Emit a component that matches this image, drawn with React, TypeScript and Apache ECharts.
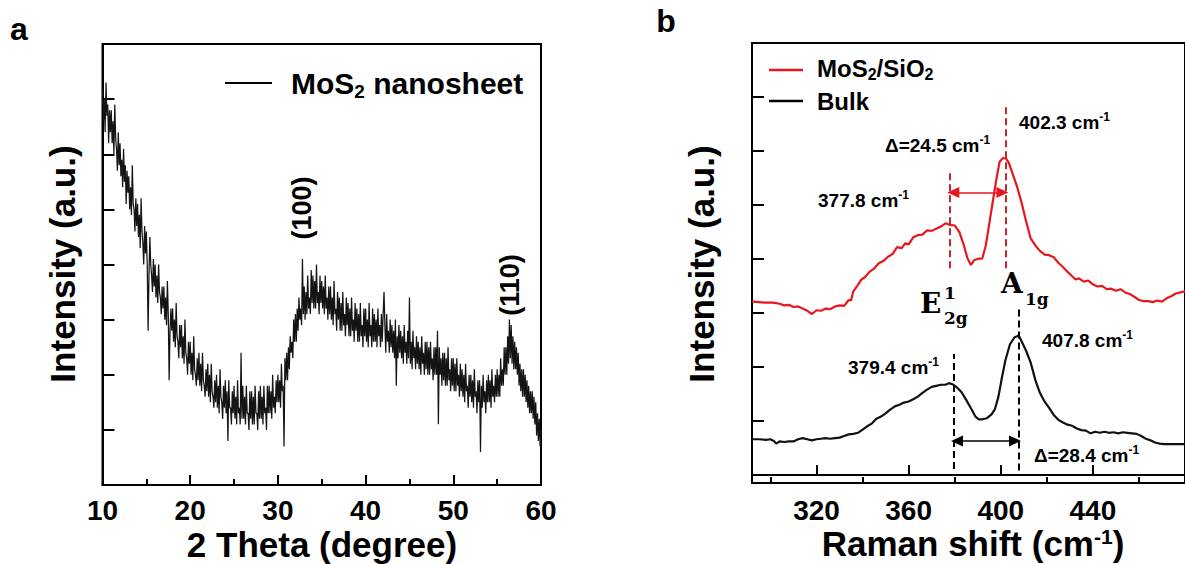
import React, { useEffect, useRef } from "react";
import * as echarts from "echarts";

// ---------- Panel a: XRD ----------
const xrdStart = 10;
const xrdStep = 0.1;
// intensity (a.u.), 10 readings per degree from 10° to 60°
const xrdIntensity = [
  7.2, 6.6, 7.0, 6.4, 7.3, 6.7, 6.9, 6.2, 6.8, 6.4, // 10
  6.8, 6.2, 6.6, 6.0, 6.9, 6.3, 6.1, 5.7, 6.4, 5.8, // 11
  6.2, 5.6, 5.9, 5.4, 6.1, 5.5, 5.8, 5.1, 5.7, 5.3, // 12
  5.6, 5.0, 5.4, 4.9, 5.8, 5.1, 5.0, 4.6, 5.2, 4.7, // 13
  5.1, 4.5, 4.9, 4.3, 5.2, 4.6, 4.4, 4.0, 4.7, 4.2, // 14
  4.6, 4.0, 2.8, 3.8, 4.5, 4.0, 3.8, 3.5, 4.1, 3.6, // 15
  4.0, 3.4, 3.8, 3.3, 4.0, 3.5, 3.4, 3.1, 3.6, 3.2, // 16
  3.6, 3.0, 3.4, 2.9, 3.7, 3.1, 1.9, 2.8, 3.2, 2.8, // 17
  3.2, 2.6, 3.0, 2.5, 3.3, 2.7, 2.6, 2.3, 2.9, 2.5, // 18
  2.9, 2.3, 2.7, 2.2, 3.0, 2.4, 2.3, 2.0, 2.6, 2.2, // 19
  2.6, 2.0, 2.4, 1.9, 2.7, 2.1, 2.0, 1.8, 2.3, 1.9, // 20
  2.4, 1.8, 2.2, 1.7, 2.4, 1.9, 1.8, 1.6, 2.1, 1.7, // 21
  2.2, 1.6, 2.0, 1.5, 2.2, 1.7, 1.6, 1.4, 1.9, 1.5, // 22
  2.0, 1.4, 1.8, 1.3, 2.1, 1.6, 1.5, 1.2, 1.8, 1.4, // 23
  1.9, 1.3, 1.7, 0.8, 1.9, 1.4, 1.4, 1.1, 1.7, 1.3, // 24
  1.8, 1.2, 1.6, 1.1, 1.9, 1.3, 1.4, 1.1, 2.4, 1.2, // 25
  1.8, 1.2, 1.6, 1.1, 1.8, 1.3, 1.3, 1.0, 1.7, 1.2, // 26
  1.7, 1.1, 1.6, 1.1, 1.8, 1.3, 1.3, 1.0, 1.7, 1.2, // 27
  1.8, 1.2, 1.6, 1.1, 1.8, 1.3, 1.4, 1.0, 1.8, 1.3, // 28
  1.8, 1.3, 1.7, 1.2, 2.0, 1.4, 1.6, 1.3, 1.9, 1.5, // 29
  2.0, 1.5, 1.9, 1.4, 2.2, 1.7, 1.8, 0.7, 2.3, 1.9, // 30
  2.4, 1.9, 2.5, 2.1, 2.7, 2.4, 2.6, 2.3, 3.0, 2.6, // 31
  3.1, 2.6, 3.2, 2.8, 3.4, 3.0, 3.2, 2.9, 4.1, 3.1, // 32
  3.6, 3.0, 3.5, 3.1, 3.8, 3.2, 3.4, 3.1, 3.9, 3.3, // 33
  3.8, 3.2, 3.7, 3.2, 4.0, 3.3, 3.5, 3.1, 3.8, 3.3, // 34
  3.7, 3.2, 3.6, 3.1, 3.8, 3.2, 3.4, 3.0, 3.6, 3.1, // 35
  3.6, 3.0, 3.4, 2.9, 3.7, 3.1, 3.2, 2.8, 3.5, 3.0, // 36
  3.4, 2.8, 3.3, 2.8, 3.5, 2.9, 3.1, 2.7, 3.4, 2.9, // 37
  3.3, 2.7, 3.2, 2.7, 3.4, 2.8, 3.0, 2.6, 3.3, 2.8, // 38
  3.2, 2.6, 3.1, 2.6, 3.3, 2.7, 2.9, 2.5, 3.2, 2.7, // 39
  3.2, 2.6, 3.0, 2.5, 3.3, 2.7, 2.9, 2.5, 3.2, 2.6, // 40
  3.1, 2.6, 3.0, 2.5, 3.2, 2.7, 2.9, 2.5, 3.1, 2.6, // 41
  3.1, 3.5, 2.9, 2.4, 3.1, 2.6, 2.8, 2.4, 3.0, 2.5, // 42
  2.9, 2.4, 2.8, 2.3, 3.0, 1.8, 2.7, 2.3, 2.9, 2.4, // 43
  2.8, 2.3, 2.7, 2.2, 2.9, 2.4, 2.6, 2.2, 2.8, 2.3, // 44
  3.4, 2.2, 2.6, 2.1, 2.8, 2.3, 2.5, 2.1, 2.7, 2.2, // 45
  2.6, 2.1, 2.5, 2.0, 2.7, 2.2, 2.4, 2.0, 2.6, 2.1, // 46
  2.6, 2.0, 2.5, 2.0, 2.6, 2.1, 2.3, 1.9, 2.5, 2.0, // 47
  2.5, 2.0, 2.8, 1.1, 2.5, 2.0, 2.3, 1.8, 2.4, 1.9, // 48
  2.4, 1.8, 2.3, 1.8, 2.5, 1.9, 2.1, 1.7, 2.3, 1.8, // 49
  2.3, 1.7, 2.2, 1.7, 2.3, 1.8, 2.0, 1.6, 2.2, 1.7, // 50
  2.1, 1.6, 2.0, 1.5, 2.2, 1.7, 1.8, 1.4, 2.0, 1.6, // 51
  2.0, 1.5, 1.9, 1.4, 2.1, 1.6, 1.7, 1.3, 1.9, 1.5, // 52
  1.9, 0.6, 1.8, 1.4, 2.0, 1.5, 1.7, 1.3, 1.9, 1.5, // 53
  2.0, 1.5, 1.9, 1.4, 2.1, 1.6, 1.8, 1.5, 2.0, 1.6, // 54
  2.1, 1.6, 2.0, 1.6, 2.3, 1.8, 2.1, 1.8, 2.5, 2.0, // 55
  2.5, 2.0, 2.7, 2.2, 3.0, 2.3, 2.9, 2.2, 2.7, 2.1, // 56
  2.6, 2.1, 2.5, 2.0, 2.4, 1.8, 2.2, 1.7, 2.1, 1.6, // 57
  2.1, 1.6, 2.0, 1.5, 1.9, 1.4, 1.8, 1.3, 1.7, 1.3, // 58
  1.7, 1.2, 1.6, 1.1, 1.5, 0.9, 1.3, 0.8, 1.2, 0.7, // 59
  1.0, // 60
];
const xrdMin = 10;
const xrdMax = 60;

// ---------- Panel b: Raman ----------
const ramanMajor = [320, 360, 400, 440];
const ramanMinor = [300, 340, 380, 420, 460];
const ramanYTicks = [1, 2, 3, 4, 5, 6, 7];

const ramanShiftRed = [
  292, 295, 298, 301, 304, 306, 308, 310, 312, 314, 316, 318, 320, 322, 324, 326, 328, 330, 332, 334,
  335, 336, 338, 339.5, 341, 343, 345, 347, 349, 351, 353, 355, 357, 358.5, 360, 362, 364, 366, 368, 370,
  372, 374, 376, 378, 380, 382, 384, 385.5, 387, 388.5, 390, 392, 393.5, 395, 396.5, 398, 399.5, 401, 402.3, 403.5,
  405, 407, 409, 411, 413, 415, 417, 419, 421, 423, 425, 427, 429, 431, 432.5, 434, 436, 438, 440, 442,
  444, 446, 448, 450, 452, 454, 456, 458, 460, 462, 464, 466, 468, 470, 472, 474, 476, 478, 480,
];
const intensityRed = [
  3.21, 3.2, 3.19, 3.19, 3.17, 3.14, 3.15, 3.11, 3.12, 3.08, 3.04, 2.98, 3.05, 3.04, 3.08, 3.07, 3.12, 3.14, 3.13, 3.24,
  3.23, 3.4, 3.52, 3.62, 3.66, 3.76, 3.82, 3.92, 3.96, 4.04, 4.09, 4.22, 4.2, 4.29, 4.27, 4.4, 4.44, 4.45, 4.53, 4.52,
  4.56, 4.6, 4.66, 4.63, 4.62, 4.5, 4.25, 4.02, 3.89, 3.98, 4.0, 4.01, 4.25, 4.65, 5.05, 5.45, 5.8, 5.87, 5.86, 5.78,
  5.6, 5.35, 5.05, 4.7, 4.38, 4.25, 4.15, 4.08, 4.07, 4.03, 3.93, 3.85, 3.76, 3.68, 3.62, 3.64, 3.58, 3.6, 3.53, 3.49,
  3.5, 3.44, 3.45, 3.41, 3.44, 3.38, 3.35, 3.3, 3.24, 3.22, 3.22, 3.2, 3.23, 3.21, 3.27, 3.31, 3.36, 3.38, 3.4,
];

const ramanShiftBulk = [
  292, 295, 298, 300, 301.5, 302.5, 304, 306, 308, 310, 312, 314, 316, 318, 320, 322, 324, 326, 328, 330,
  332, 334, 336, 338, 340, 342, 344, 346, 348, 350, 352, 354, 356, 358, 360, 362, 364, 366, 368, 370,
  372, 374, 376, 377.5, 379, 381, 383, 385, 387, 389, 390.5, 392, 394, 396, 397.5, 399, 400.5, 402, 404, 406,
  407.8, 409, 411, 413, 415, 417, 419, 421, 423, 425, 427, 429, 431, 433, 435, 437, 439, 441, 443, 445,
  447, 449, 451, 453, 455, 457, 459, 461, 463, 465, 467, 469, 471, 474, 477, 480,
];
const intensityBulk = [
  0.66, 0.66, 0.65, 0.66, 0.63, 0.58, 0.62, 0.61, 0.62, 0.62, 0.66, 0.68, 0.66, 0.64, 0.66, 0.67, 0.68, 0.67, 0.68, 0.69,
  0.72, 0.75, 0.76, 0.78, 0.84, 0.9, 0.95, 1.04, 1.08, 1.14, 1.21, 1.27, 1.3, 1.34, 1.36, 1.4, 1.45, 1.52, 1.58, 1.63,
  1.65, 1.67, 1.67, 1.7, 1.68, 1.62, 1.53, 1.39, 1.24, 1.08, 1.03, 1.03, 1.05, 1.12, 1.22, 1.45, 1.8, 2.12, 2.42, 2.55,
  2.58, 2.48, 2.3, 2.08, 1.76, 1.52, 1.36, 1.24, 1.11, 1.02, 0.97, 0.93, 0.91, 0.86, 0.83, 0.82, 0.77, 0.8, 0.78, 0.8,
  0.78, 0.79, 0.77, 0.79, 0.78, 0.77, 0.76, 0.72, 0.67, 0.64, 0.6, 0.58, 0.57, 0.57, 0.57, 0.57,
];

// peak positions (cm-1) and annotation extents (a.u.)
const redPeakE = 377.8;
const redPeakA = 402.3;
const bulkPeakE = 379.4;
const bulkPeakA = 407.8;
const redEDash = [3.83, 5.65];
const redADash = [3.83, 6.85];
const redArrowY = 5.23;
const bulkEDash = [0.11, 2.24];
const bulkADash = [0.08, 3.12];
const bulkArrowY = 0.63;

const FONT = "'Liberation Sans', Arial, Helvetica, sans-serif";
const SERIF = "'DejaVu Serif', 'Liberation Serif', serif";
const RED = "#e8171d";
const DARKRED = "#c4262b";

function supText(
  x: number,
  y: number,
  parts: string,
  size: number,
  supSize: number,
  extra: any = {}
) {
  const lh = extra.lineHeight || Math.round(size * 1.15);
  const { lineHeight, align, ...rest } = extra;
  return {
    type: "text",
    x,
    y,
    silent: true,
    ...rest,
    style: {
      text: parts,
      align: align || "left",
      verticalAlign: "middle",
      rich: {
        n: { fontSize: size, fontWeight: "bold", fontFamily: FONT, fill: "#000", lineHeight: lh },
        s: { fontSize: supSize, fontWeight: "bold", fontFamily: FONT, fill: "#000", lineHeight: Math.round(supSize * 0.8), verticalAlign: "top" },
        b: { fontSize: supSize, fontWeight: "bold", fontFamily: FONT, fill: "#000", lineHeight: Math.round(supSize * 0.8), verticalAlign: "bottom" },
      },
    },
  };
}

function plainText(x: number, y: number, text: string, size: number, extra: any = {}) {
  const { fontWeight, fontFamily, align, lineHeight, ...rest } = extra;
  const style: any = {
    text,
    fontSize: size,
    fontWeight: fontWeight || "bold",
    fontFamily: fontFamily || FONT,
    fill: "#000",
    align: align || "center",
    verticalAlign: "middle",
  };
  if (lineHeight) style.lineHeight = lineHeight;
  return { type: "text", x, y, silent: true, ...rest, style };
}

const axisLineStyle = { show: true, lineStyle: { color: "#000", width: 2 } };
const tickLabel = { fontSize: 28, fontWeight: "bold", fontFamily: FONT, color: "#000", margin: 11, lineHeight: 28 };

export default function App() {
  const ref = useRef<HTMLDivElement>(null);

  useEffect(() => {
    if (!ref.current) return;
    const chart = echarts.init(ref.current, null, { renderer: "svg" });

    const xrdData = xrdIntensity.map((v, i) => [xrdStart + i * xrdStep, v]);
    const redData = ramanShiftRed.map((w, i) => [w, intensityRed[i]]);
    const bulkData = ramanShiftBulk.map((w, i) => [w, intensityBulk[i]]);

    const dashRed = { type: [7, 4], color: DARKRED, width: 2 };
    const dashBlack = { type: [7, 4], color: "#000", width: 2 };
    const serifMain = { align: "left", fontWeight: "bold", fontFamily: SERIF, lineHeight: 22 };
    const serifSmall = { align: "left", fontWeight: "bold", fontFamily: SERIF, lineHeight: 13 };

    const option: any = {
      animation: false,
      grid: [
        { left: 102.5, top: 44, width: 438.5, height: 441, show: true, borderColor: "#000", borderWidth: 2, backgroundColor: "transparent" },
        { left: 752, top: 43, width: 442, height: 440, show: true, borderColor: "#000", borderWidth: 2, backgroundColor: "transparent" },
      ],
      xAxis: [
        {
          gridIndex: 0,
          type: "value",
          min: xrdMin,
          max: xrdMax,
          interval: 10,
          position: "bottom",
          axisLine: axisLineStyle,
          axisTick: { show: true, inside: true, length: 10, lineStyle: { color: "#000", width: 2 } },
          minorTick: { show: true, splitNumber: 2, length: 6, lineStyle: { color: "#000", width: 2 } },
          axisLabel: tickLabel,
          splitLine: { show: false },
          minorSplitLine: { show: false },
        },
        {
          gridIndex: 1,
          type: "value",
          min: 292,
          max: 480,
          position: "bottom",
          axisLine: axisLineStyle,
          axisTick: { show: true, inside: true, length: 10, customValues: ramanMajor, lineStyle: { color: "#000", width: 2 } },
          axisLabel: { ...tickLabel, customValues: ramanMajor, margin: 13 },
          splitLine: { show: false },
        },
        {
          gridIndex: 1,
          type: "value",
          min: 292,
          max: 480,
          position: "bottom",
          axisLine: { show: false },
          axisTick: { show: true, inside: true, length: 6, customValues: ramanMinor, lineStyle: { color: "#000", width: 2 } },
          axisLabel: { show: false },
          splitLine: { show: false },
        },
      ],
      yAxis: [
        {
          gridIndex: 0,
          type: "value",
          min: 0,
          max: 8,
          interval: 1,
          axisLine: axisLineStyle,
          axisTick: { show: true, inside: true, length: 12, lineStyle: { color: "#000", width: 2 } },
          axisLabel: { show: false },
          splitLine: { show: false },
        },
        {
          gridIndex: 1,
          type: "value",
          min: -0.15,
          max: 8,
          axisLine: axisLineStyle,
          axisTick: { show: true, inside: true, length: 12, customValues: ramanYTicks, lineStyle: { color: "#000", width: 2 } },
          axisLabel: { show: false },
          splitLine: { show: false },
        },
      ],
      series: [
        {
          name: "MoS2 nanosheet",
          type: "line",
          xAxisIndex: 0,
          yAxisIndex: 0,
          data: xrdData,
          showSymbol: false,
          lineStyle: { color: "#141414", width: 1.25 },
          silent: true,
        },
        {
          name: "MoS2/SiO2",
          type: "line",
          xAxisIndex: 1,
          yAxisIndex: 1,
          data: redData,
          showSymbol: false,
          lineStyle: { color: RED, width: 2.2 },
          silent: true,
          markLine: {
            silent: true,
            animation: false,
            label: { show: false },
            symbol: ["none", "none"],
            data: [
              [
                { coord: [redPeakE, redEDash[0]], lineStyle: dashRed },
                { coord: [redPeakE, redEDash[1]] },
              ],
              [
                { coord: [redPeakA, redADash[0]], lineStyle: dashRed },
                { coord: [redPeakA, redADash[1]] },
              ],
              [
                { coord: [redPeakE + 1.6, redArrowY], symbol: "triangle", symbolSize: [11, 12], lineStyle: { type: "solid", color: RED, width: 1.5 }, itemStyle: { color: RED } },
                { coord: [redPeakA - 1.6, redArrowY], symbol: "triangle", symbolSize: [11, 12] },
              ],
            ],
          },
        },
        {
          name: "Bulk",
          type: "line",
          xAxisIndex: 1,
          yAxisIndex: 1,
          data: bulkData,
          showSymbol: false,
          lineStyle: { color: "#111", width: 2.2 },
          silent: true,
          markLine: {
            silent: true,
            animation: false,
            label: { show: false },
            symbol: ["none", "none"],
            data: [
              [
                { coord: [bulkPeakE, bulkEDash[0]], lineStyle: dashBlack },
                { coord: [bulkPeakE, bulkEDash[1]] },
              ],
              [
                { coord: [bulkPeakA, bulkADash[0]], lineStyle: dashBlack },
                { coord: [bulkPeakA, bulkADash[1]] },
              ],
              [
                { coord: [bulkPeakE + 1.6, bulkArrowY], symbol: "triangle", symbolSize: [11, 12], lineStyle: { type: "solid", color: "#000", width: 1.5 }, itemStyle: { color: "#000" } },
                { coord: [bulkPeakA - 1.6, bulkArrowY], symbol: "triangle", symbolSize: [11, 12] },
              ],
            ],
          },
        },
      ],
      graphic: [
        // panel letters
        plainText(19, 29, "a", 32),
        plainText(666, 21, "b", 32),
        // panel a legend
        { type: "line", silent: true, shape: { x1: 225, y1: 83, x2: 272, y2: 83 }, style: { stroke: "#000", lineWidth: 2 } },
        supText(291, 83, "{n|MoS}{b|2}{n| nanosheet}", 30, 19),
        // panel a peak labels
        plainText(302, 208, "(100)", 27, { rotation: Math.PI / 2 }),
        plainText(510, 285, "(110)", 27, { rotation: Math.PI / 2 }),
        // panel a axis titles
        plainText(322, 544, "2 Theta (degree)", 35, { lineHeight: 36 }),
        plainText(62, 264, "Intensity (a.u.)", 35, { rotation: Math.PI / 2 }),
        // panel b legend
        { type: "line", silent: true, shape: { x1: 769, y1: 70, x2: 803, y2: 70 }, style: { stroke: RED, lineWidth: 2.5 } },
        { type: "line", silent: true, shape: { x1: 769, y1: 101, x2: 803, y2: 101 }, style: { stroke: "#000", lineWidth: 2.5 } },
        supText(817, 68, "{n|MoS}{b|2}{n|/SiO}{b|2}", 24, 16),
        plainText(817, 101, "Bulk", 24, { align: "left" }),
        // panel b annotations
        supText(1019, 122, "{n|402.3 cm}{s|-1}", 19, 12),
        supText(885, 145, "{n|Δ=24.5 cm}{s|-1}", 19, 12),
        supText(818, 200, "{n|377.8 cm}{s|-1}", 19, 12),
        supText(848, 367, "{n|379.4 cm}{s|-1}", 19, 12),
        supText(1042, 340, "{n|407.8 cm}{s|-1}", 19, 12),
        supText(1034, 455, "{n|Δ=28.4 cm}{s|-1}", 19, 12),
        // mode labels
        plainText(920, 303, "E", 28, serifMain),
        plainText(944, 293, "1", 17, serifSmall),
        plainText(944, 318, "2g", 17, serifSmall),
        plainText(1001, 283, "A", 28, serifMain),
        plainText(1025, 299, "1g", 17, serifSmall),
        // panel b axis titles
        supText(973, 543, "{n|Raman shift (cm}{s|-1}{n|)}", 35, 21, { align: "center", lineHeight: 34 }),
        plainText(701, 264, "Intensity (a.u.)", 35, { rotation: Math.PI / 2 }),
      ],
    };

    chart.setOption(option);
    return () => chart.dispose();
  }, []);

  return (
    <div
      ref={ref}
      style={{ position: "absolute", left: 0, top: 0, width: 1185, height: 564, background: "#fff" }}
    />
  );
}
